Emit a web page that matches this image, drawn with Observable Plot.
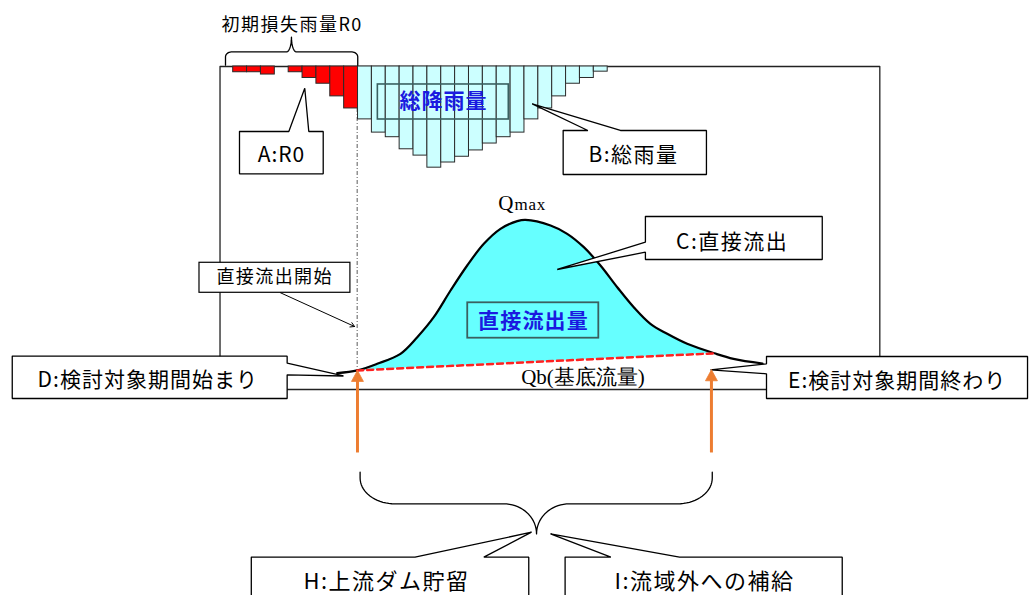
<!DOCTYPE html>
<html><head><meta charset="utf-8">
<script src="https://cdn.jsdelivr.net/npm/d3@7"></script>
<script src="https://cdn.jsdelivr.net/npm/@observablehq/plot@0.6"></script>
<style>
html,body{margin:0;padding:0;background:#fff;}
#chart svg{display:block;}
</style></head><body><div id="chart"></div>
<script>
// ---- data ----
// rainfall per hour (mm): initial loss R0 (hours 0-8), then total rainfall (hours 9-26)
const lossRain  = [1, 1, 1.4, 0, 1, 2, 3, 5.2, 7.3];
const totalRain = [9.2, 11.5, 12.3, 14.4, 15.5, 17.6, 16.7, 15.7, 14.6, 13.4, 12.3, 11.5, 9.2, 7.3, 5.2, 3, 2, 0.9];
// hydrograph (hour, discharge)
const hydroHour = [7.5, 8.94, 10.38, 12.06, 13.27, 14.46, 15.67, 16.87, 18.07, 19.27, 20.48, 21.07, 22.88, 24.08, 25.28, 26.48, 27.69, 28.88, 30.08, 31.29, 32.73, 34.7, 36.07, 38.16];
const hydroFlow = [5.05, 5.9, 7.96, 11.05, 16.19, 22.38, 30.65, 38.39, 45.11, 49.75, 52.11, 52.5, 50.77, 48.2, 44.06, 38.39, 31.67, 25.48, 20.34, 17.24, 14.15, 11.2, 9.5, 8.05];
// base flow line (start / end of the study period)
const baseHour = [8.94, 34.7];
const baseFlow = [5.9, 11.2];
// texts
const braceLabel = "初期損失雨量R0";
const calloutLabels = ["A:R0", "B:総雨量", "C:直接流出", "D:検討対象期間始まり", "E:検討対象期間終わり", "H:上流ダム貯留", "I:流域外への補給"];
const startLabel = "直接流出開始";
const rainLabel = "総降雨量";
const runoffLabel = "直接流出量";
const qmaxLabel = ["Q", "max"];
const qbLabel = "Qb(基底流量)";

// ---- layout ----
const FRAME_TOP = 100;      // discharge value at top of frame (rain hangs from here)
const RAIN_K = 1.78;        // discharge units per mm of rain (drawing depth)
const CJK = "'Noto Sans CJK JP', sans-serif";
const SERIF = "'Liberation Serif', 'DejaVu Serif', serif";

const rainRows = [
  ...lossRain.map((r, i) => ({h: i, r, kind: "loss"})),
  ...totalRain.map((r, i) => ({h: i + lossRain.length, r, kind: "total"}))
].filter(d => d.r > 0);

const hydro = hydroHour.map((h, i) => ({h, q: hydroFlow[i]}));
const baseAt = h => baseFlow[0] + (baseFlow[1] - baseFlow[0]) * (h - baseHour[0]) / (baseHour[1] - baseHour[0]);
const runoff = hydro.filter(d => d.h >= baseHour[0] - 1e-9 && d.h <= baseHour[1] + 1e-9).map(d => ({...d, b: baseAt(d.h)}));
const baseLine = baseHour.map((h, i) => ({h, q: baseFlow[i]}));

function poly(id, pts) { return pts.concat([pts[0]]).map(([x, y]) => ({id, x, y})); }
function bracePts(xL, xR, xC, yEnd, yMid, yTip, rx, ry, rx2) {
  const s = Math.sign(yMid - yEnd), ry2 = Math.abs(yTip - yMid), N = 18, P = Math.PI;
  const pts = [[xL, yEnd]];
  for (let i = 0; i <= N; i++) { const a = P - (P / 2) * i / N; pts.push([xL + rx + rx * Math.cos(a), yMid - s * ry + s * ry * Math.sin(a)]); }
  for (let i = 0; i <= N; i++) { const a = -P / 2 + (P / 2) * i / N; pts.push([xC - rx2 + rx2 * Math.cos(a), yMid + s * ry2 + s * ry2 * Math.sin(a)]); }
  for (let i = 0; i <= N; i++) { const a = P + (P / 2) * i / N; pts.push([xC + rx2 + rx2 * Math.cos(a), yMid + s * ry2 + s * ry2 * Math.sin(a)]); }
  for (let i = 0; i <= N; i++) { const a = P / 2 - (P / 2) * i / N; pts.push([xR - rx + rx * Math.cos(a), yMid - s * ry + s * ry * Math.sin(a)]); }
  pts.push([xR, yEnd]);
  return pts.map(([x, y]) => ({x, y}));
}

const frame = poly("frame", [[-0.95, 0], [-0.95, FRAME_TOP], [46.62, FRAME_TOP], [46.62, 0]]);

const callouts = [
  poly("A", [[0.454, 79.88], [4.01, 79.88], [5.16, 93.28], [5.45, 79.88], [6.49, 79.88], [6.49, 66.78], [0.454, 66.78]]),
  poly("B", [[23.79, 80.19], [25.57, 80.19], [21.56, 88.45], [27.92, 80.19], [34.12, 80.19], [34.12, 66.56], [23.79, 66.56]]),
  poly("C", [[29.72, 53.56], [42.47, 53.56], [42.47, 40.25], [29.72, 40.25], [29.72, 42.51], [23.36, 37.15], [29.72, 45.6]]),
  poly("D", [[-15.93, 10.31], [3.89, 10.31], [3.89, 8.14], [7.95, 4.18], [3.89, 4.55], [3.89, -2.79], [-15.93, -2.79]]),
  poly("E", [[38.45, 10.22], [57.27, 10.22], [57.27, -2.79], [38.45, -2.79], [38.45, 4.86], [34.41, 6.1], [38.45, 7.96]]),
  poly("H", [[1.305, -51.92], [13.11, -51.92], [21.51, -44.18], [18.07, -51.92], [21.31, -51.92], [21.31, -66], [1.305, -66]]),
  poly("I", [[23.93, -51.92], [27.23, -51.92], [22.88, -44.67], [32.18, -51.92], [43.91, -51.92], [43.91, -66], [23.93, -66]])
].flat();

const ORANGE = "#ED7D31";
const arrowHeads = [
  poly("L", [[8.96, 5.88], [8.53, 2.5], [9.39, 2.5]]),
  poly("R", [[34.48, 6.1], [34.05, 2.7], [34.91, 2.7]])
].flat();

function label(text, x, y, opts = {}) {
  return Plot.text([text], {x: () => x, y: () => y, text: d => d, fontFamily: CJK, fontSize: 21, fill: "#000", lineAnchor: "middle", ...opts});
}

const svg = Plot.plot({
  width: 1030, height: 595, margin: 0,
  x: {domain: [-16.777, 57.484], axis: null},
  y: {domain: [-63.78, 120.43], axis: null},
  style: {fontFamily: CJK, background: "white", overflow: "hidden"},
  marks: [
    Plot.line(frame, {x: "x", y: "y", stroke: "#222", strokeWidth: 1.3}),
    Plot.ruleX([baseHour[0]], {x: d => d, y1: FRAME_TOP - lossRain[lossRain.length - 1] * RAIN_K, y2: baseFlow[0], stroke: "#777", strokeWidth: 1.2, strokeDasharray: "4,2,1,2"}),
    Plot.rect(rainRows.filter(d => d.kind === "loss"), {x1: d => d.h, x2: d => d.h + 1, y1: () => FRAME_TOP, y2: d => FRAME_TOP - d.r * RAIN_K, fill: "#FF0000", stroke: "#2a2a2a", strokeWidth: 1}),
    Plot.rect(rainRows.filter(d => d.kind === "total"), {x1: d => d.h, x2: d => d.h + 1, y1: () => FRAME_TOP, y2: d => FRAME_TOP - d.r * RAIN_K, fill: "#CCFFFF", stroke: "#2a2a2a", strokeWidth: 1}),
    Plot.rect([0], {x1: () => 10.43, x2: () => 19.87, y1: () => 94.43, y2: () => 83.59, fill: "none", stroke: "#3a6060", strokeWidth: 1.6}),
    Plot.areaY(runoff, {x: "h", y1: "b", y2: "q", curve: "catmull-rom", fill: "#66FFFF"}),
    Plot.line(hydro, {x: "h", y: "q", curve: "catmull-rom", stroke: "#000", strokeWidth: 2.2}),
    Plot.line(baseLine, {x: "h", y: "q", stroke: "#FF2020", strokeWidth: 2.5, strokeDasharray: "6,4"}),
    Plot.rect([0], {x1: () => 16.91, x2: () => 26.36, y1: () => 26.84, y2: () => 15.88, fill: "#66FFFF", stroke: "#3a6060", strokeWidth: 1.8}),
    Plot.line(callouts, {x: "x", y: "y", z: "id", fill: "white", stroke: "#000", strokeWidth: 1.3, strokeLinejoin: "miter"}),
    Plot.rect([0], {x1: () => -2.43, x2: () => 8.45, y1: () => 39.23, y2: () => 29.94, fill: "white", stroke: "#000", strokeWidth: 1.2}),
    Plot.arrow([0], {x1: () => 3.41, y1: () => 29.94, x2: () => 8.75, y2: () => 19.5, stroke: "#000", strokeWidth: 1, headLength: 7}),
    Plot.line(bracePts(-0.555, 8.98, 4.2, 100.4, 104.5, 109.1, 0.43, 1.55, 0.36), {x: "x", y: "y", stroke: "#000", strokeWidth: 1.3}),
    Plot.line(bracePts(9.15, 34.54, 21.87, -25.6, -35.4, -44.7, 2.5, 8, 2.36), {x: "x", y: "y", stroke: "#000", strokeWidth: 1.3}),
    Plot.link([8.96, 34.48], {x1: d => d, x2: d => d, y1: () => -19.5, y2: (d, i) => (i ? 2.9 : 2.7), stroke: ORANGE, strokeWidth: 3}),
    Plot.line(arrowHeads, {x: "x", y: "y", z: "id", fill: ORANGE, stroke: ORANGE, strokeWidth: 0.8}),
    // texts
    label(braceLabel, 4.25, 112.69, {fontSize: 18}),
    label(calloutLabels[0], 3.48, 72.6),
    label(calloutLabels[1], 28.86, 72.45),
    label(calloutLabels[2], 35.98, 45.6),
    label(calloutLabels[3], -6.16, 2.79),
    label(calloutLabels[4], 47.87, 2.54),
    label(calloutLabels[5], 11.05, -59.6, {fontSize: 22}),
    label(calloutLabels[6], 33.98, -59.6, {fontSize: 22}),
    label(startLabel, 2.99, 34.77, {fontSize: 18}),
    label(rainLabel, 15.16, 89.21, {fontWeight: "bold", fill: "#1a1ae0"}),
    label(runoffLabel, 21.65, 21.11, {fontWeight: "bold", fill: "#1a1ae0"}),
    Plot.text([qmaxLabel[0]], {x: () => 20.21, y: () => 55.42, text: d => d, fontFamily: SERIF, fontSize: 21, textAnchor: "end", lineAnchor: "bottom", fill: "#000"}),
    Plot.text([qmaxLabel[1]], {x: () => 20.28, y: () => 55.42, text: d => d, fontFamily: SERIF, fontSize: 17, textAnchor: "start", lineAnchor: "bottom", fill: "#000"}),
    Plot.text([qbLabel], {x: () => 25.22, y: () => 1.76, text: d => d, fontFamily: SERIF, fontSize: 21, lineAnchor: "bottom", fill: "#000"})
  ]
});

const spacing = new Map([
  [braceLabel, 1.5], [calloutLabels[0], 1], [calloutLabels[1], 1.5], [calloutLabels[2], 1.5],
  [calloutLabels[3], 1], [calloutLabels[4], 1], [calloutLabels[5], 1.5], [calloutLabels[6], 1.5],
  [startLabel, 1.4], [rainLabel, 1], [runoffLabel, 1.2], [qmaxLabel[1], 0.8]
]);
d3.select(svg).selectAll("text").each(function () {
  const t = this.textContent;
  if (spacing.has(t)) this.setAttribute("letter-spacing", spacing.get(t));
});
document.getElementById("chart").appendChild(svg);
</script></body></html>
